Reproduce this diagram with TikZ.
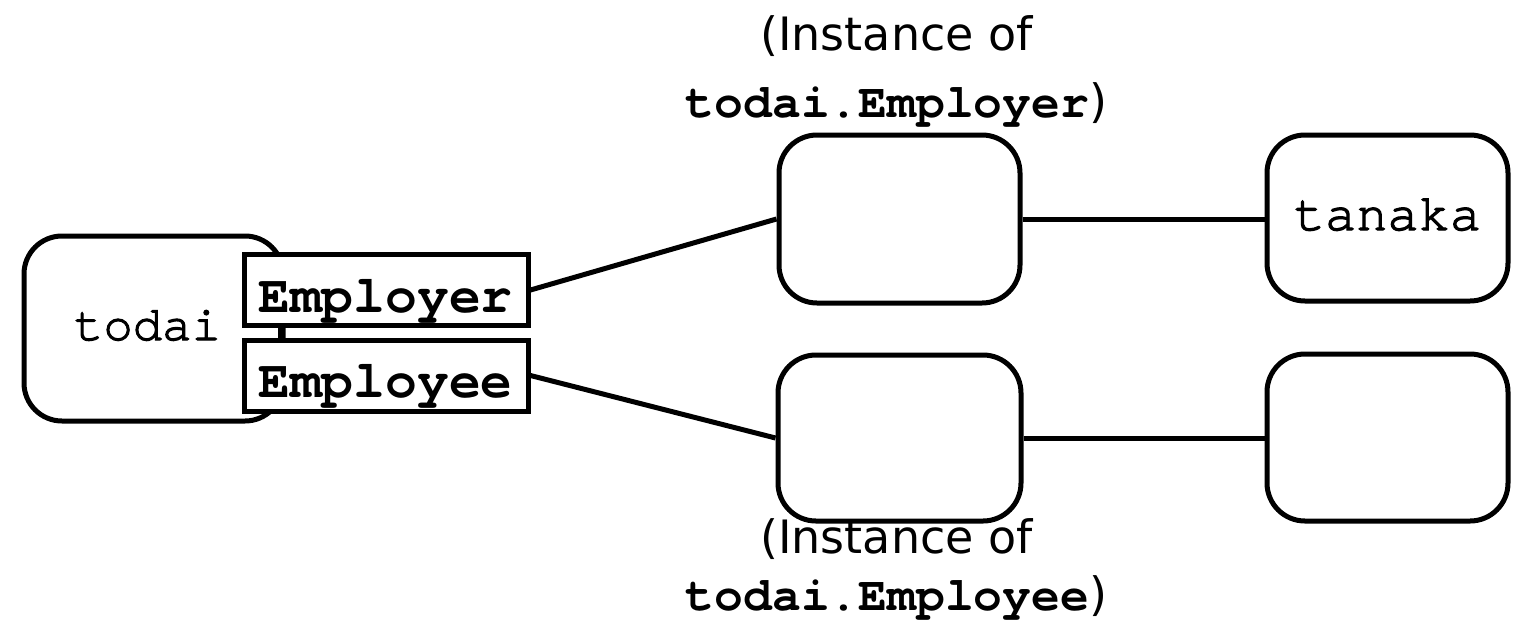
\documentclass[tikz,border=0pt]{standalone}
\usepackage{fontspec}
\setmainfont{DejaVu Sans}
\newfontfamily\cour{texgyrecursor}[Extension=.otf,UprightFont=*-regular,BoldFont=*-bold]
\newfontfamily\courmed{texgyrecursor}[Extension=.otf,UprightFont=*-regular,FakeBold=2.2]
\begin{document}
\begin{tikzpicture}[x=1pt,y=-1pt,line width=5pt,
  roundbox/.style={draw,line width=5pt,rounded corners=38pt,inner sep=0pt,fill=white},
  portbox/.style={draw,line width=5pt,fill=white,inner sep=0pt,minimum width=284pt,minimum height=71pt},
  boxlabel/.style={anchor=base,inner sep=0pt,font=\courmed\fontsize{52}{60}\selectfont},
  portlabel/.style={anchor=base,inner sep=0pt,font=\cour\bfseries\fontsize{53}{60}\selectfont},
  captxt/.style={anchor=base,inner sep=0pt,font=\fontsize{46}{55}\selectfont},
  capcode/.style={anchor=base,inner sep=0pt,font=\fontsize{46}{55}\selectfont},
  conn/.style={draw,line width=5pt}]
\useasboundingbox (0,0) rectangle (1527,633);
% left object
\node[roundbox,minimum width=259pt,minimum height=185pt] (todai) at (153.5,328.5) {};
\node[boxlabel,font=\courmed\fontsize{49}{60}\selectfont] (todaitext) at (147.5,340) {todai};
\node[portbox] (employer) at (386,290) {};
\node[portbox] (employee) at (386,375.5) {};
\node[portlabel] (employertext) at (385.5,312) {Employer};
\node[portlabel] (employeetext) at (385.5,397) {Employee};
\draw[conn] ([xshift=39pt]employer.south west) -- ([xshift=39pt]employee.north west);
% middle instances
\node[roundbox,minimum width=241pt,minimum height=168pt] (m1) at (899.5,219) {};
\node[roundbox,minimum width=243pt,minimum height=166pt] (m2) at (899.5,438) {};
% right objects
\node[roundbox,minimum width=241pt,minimum height=166pt] (tanaka) at (1387.5,218) {};
\node[boxlabel] (tanakatext) at (1387.5,230) {tanaka};
\node[roundbox,minimum width=241pt,minimum height=167pt] (r2) at (1387.5,437.5) {};
% connectors
\draw[conn] (employer.east) -- (m1.west);
\draw[conn] (employee.east) -- (m2.west);
\draw[conn] (m1.east) -- (m1.east -| tanaka.west);
\draw[conn] (m2.east) -- (m2.east -| r2.west);
% captions
\node[captxt] (cap1a) at (896.5,50) {(Instance of};
\node[capcode] (cap1b) at (896.5,117) {{\cour\bfseries\fontsize{48}{55}\selectfont todai.Employer})};
\node[captxt] (cap2a) at (896.5,553) {(Instance of};
\node[capcode] (cap2b) at (896.5,610) {{\cour\bfseries\fontsize{48}{55}\selectfont todai.Employee})};
\end{tikzpicture}
\end{document}
